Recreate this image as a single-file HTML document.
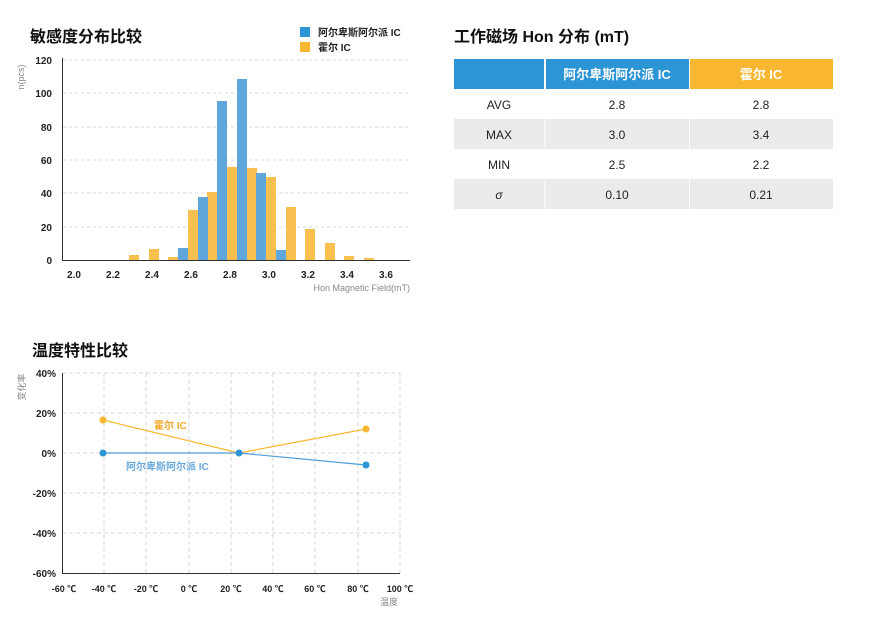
<!DOCTYPE html>
<html><head><meta charset="utf-8"><style>
body{margin:0;background:#fff;}
svg text{font-family:"Liberation Sans","Noto Sans CJK SC",sans-serif;}
</style></head><body>
<svg width="880" height="630" xmlns="http://www.w3.org/2000/svg">
<rect width="880" height="630" fill="#fff"/>
<!-- Histogram -->
<text x="30" y="42" font-size="16" font-weight="bold" fill="#111">敏感度分布比较</text>
<rect x="300" y="27" width="10" height="10" fill="#2b95d6"/>
<text x="318" y="36" font-size="10" font-weight="bold" fill="#222">阿尔卑斯阿尔派 IC</text>
<rect x="300" y="42" width="10" height="10" fill="#f9b731"/>
<text x="318" y="51" font-size="10" font-weight="bold" fill="#222">霍尔 IC</text>
<g stroke="#ccc" stroke-dasharray="3,3" stroke-width="0.8">
<line x1="63" y1="60" x2="410" y2="60"/><line x1="63" y1="93" x2="410" y2="93"/><line x1="63" y1="127" x2="410" y2="127"/><line x1="63" y1="160" x2="410" y2="160"/><line x1="63" y1="193" x2="410" y2="193"/><line x1="63" y1="227" x2="410" y2="227"/>
</g>
<g fill="#f9c050">
<rect x="129" y="255" width="10" height="5"/><rect x="149" y="249" width="10" height="11"/><rect x="168" y="257" width="10" height="3"/>
<rect x="188" y="210" width="10" height="50"/><rect x="207" y="192" width="10" height="68"/><rect x="227" y="167" width="10" height="93"/>
<rect x="247" y="168" width="10" height="92"/><rect x="266" y="177" width="10" height="83"/><rect x="286" y="207" width="10" height="53"/>
<rect x="305" y="229" width="10" height="31"/><rect x="325" y="243" width="10" height="17"/><rect x="344" y="256" width="10" height="4"/><rect x="364" y="258" width="10" height="2"/>
</g>
<g fill="#5fa6dc">
<rect x="178" y="248" width="10" height="12"/><rect x="198" y="197" width="10" height="63"/><rect x="217" y="101" width="10" height="159"/>
<rect x="237" y="79" width="10" height="181"/><rect x="256" y="173" width="10" height="87"/><rect x="276" y="250" width="10" height="10"/>
</g>
<line x1="62.5" y1="58" x2="62.5" y2="261" stroke="#333" stroke-width="1"/>
<line x1="62" y1="260.5" x2="410" y2="260.5" stroke="#333" stroke-width="1"/>
<g font-size="10" font-weight="bold" fill="#222" text-anchor="end">
<text x="52" y="64">120</text><text x="52" y="97">100</text><text x="52" y="131">80</text><text x="52" y="164">60</text><text x="52" y="197">40</text><text x="52" y="231">20</text><text x="52" y="264">0</text>
</g>
<g font-size="10" font-weight="bold" fill="#222" text-anchor="middle">
<text x="74" y="278">2.0</text><text x="113" y="278">2.2</text><text x="152" y="278">2.4</text><text x="191" y="278">2.6</text><text x="230" y="278">2.8</text><text x="269" y="278">3.0</text><text x="308" y="278">3.2</text><text x="347" y="278">3.4</text><text x="386" y="278">3.6</text>
</g>
<text x="410" y="291" font-size="9" fill="#888" text-anchor="end">Hon Magnetic Field(mT)</text>
<text transform="translate(24,77) rotate(-90)" font-size="9" fill="#888" text-anchor="middle">n(pcs)</text>

<!-- Table -->
<text x="454" y="42" font-size="16" font-weight="bold" fill="#111">工作磁场 Hon 分布 (mT)</text>
<rect x="454" y="59" width="90" height="30" fill="#2b95d6"/>
<rect x="546" y="59" width="143" height="30" fill="#2b95d6"/>
<rect x="690" y="59" width="143" height="30" fill="#f9b731"/>
<text x="617" y="79" font-size="13" font-weight="bold" fill="#fff" text-anchor="middle">阿尔卑斯阿尔派 IC</text>
<text x="761" y="79" font-size="13" font-weight="bold" fill="#fff" text-anchor="middle">霍尔 IC</text>
<rect x="454" y="119" width="379" height="30" fill="#ebebeb"/>
<rect x="454" y="179" width="379" height="30" fill="#ebebeb"/>
<line x1="545" y1="89" x2="545" y2="209" stroke="#fff"/><line x1="689.5" y1="89" x2="689.5" y2="209" stroke="#fff"/>
<g font-size="12" fill="#222" text-anchor="middle">
<text x="499" y="109">AVG</text><text x="617" y="109">2.8</text><text x="761" y="109">2.8</text>
<text x="499" y="139">MAX</text><text x="617" y="139">3.0</text><text x="761" y="139">3.4</text>
<text x="499" y="169">MIN</text><text x="617" y="169">2.5</text><text x="761" y="169">2.2</text>
<text x="499" y="199" font-style="italic">σ</text><text x="617" y="199">0.10</text><text x="761" y="199">0.21</text>
</g>

<!-- Line chart -->
<text x="32" y="356" font-size="16" font-weight="bold" fill="#111">温度特性比较</text>
<g stroke="#ccc" stroke-dasharray="4,3" stroke-width="0.8">
<line x1="62" y1="373" x2="400" y2="373"/><line x1="62" y1="413" x2="400" y2="413"/><line x1="62" y1="453" x2="400" y2="453"/><line x1="62" y1="493" x2="400" y2="493"/><line x1="62" y1="533" x2="400" y2="533"/>
<line x1="104" y1="373" x2="104" y2="573"/><line x1="146" y1="373" x2="146" y2="573"/><line x1="189" y1="373" x2="189" y2="573"/><line x1="231" y1="373" x2="231" y2="573"/><line x1="273" y1="373" x2="273" y2="573"/><line x1="315" y1="373" x2="315" y2="573"/><line x1="358" y1="373" x2="358" y2="573"/><line x1="400" y1="373" x2="400" y2="573"/>
</g>
<line x1="62.5" y1="373" x2="62.5" y2="574" stroke="#333"/>
<line x1="62" y1="573.5" x2="400" y2="573.5" stroke="#333"/>
<polyline points="103,420 239,453 366,429" fill="none" stroke="#f9b731" stroke-width="1.2"/>
<polyline points="103,453 239,453 366,465" fill="none" stroke="#4a9fdc" stroke-width="1.2"/>
<g fill="#f9b731"><circle cx="103" cy="420" r="3.5"/><circle cx="366" cy="429" r="3.5"/></g>
<g fill="#2b95d6"><circle cx="103" cy="453" r="3.5"/><circle cx="239" cy="453" r="3.5"/><circle cx="366" cy="465" r="3.5"/></g>
<text x="154" y="429" font-size="10" font-weight="bold" fill="#f5a623">霍尔 IC</text>
<text x="126" y="470" font-size="10" font-weight="bold" fill="#6aa9dd">阿尔卑斯阿尔派 IC</text>
<g font-size="10" font-weight="bold" fill="#222" text-anchor="end">
<text x="56" y="377">40%</text><text x="56" y="417">20%</text><text x="56" y="457">0%</text><text x="56" y="497">-20%</text><text x="56" y="537">-40%</text><text x="56" y="577">-60%</text>
</g>
<g font-size="9" font-weight="bold" fill="#222" text-anchor="middle">
<text x="64" y="592">-60 ℃</text><text x="104" y="592">-40 ℃</text><text x="146" y="592">-20 ℃</text><text x="189" y="592">0 ℃</text><text x="231" y="592">20 ℃</text><text x="273" y="592">40 ℃</text><text x="315" y="592">60 ℃</text><text x="358" y="592">80 ℃</text><text x="400" y="592">100 ℃</text>
</g>
<text x="398" y="605" font-size="9" fill="#888" text-anchor="end">温度</text>
<text transform="translate(25,387) rotate(-90)" font-size="9" fill="#888" text-anchor="middle">变化率</text>
</svg>
</body></html>
